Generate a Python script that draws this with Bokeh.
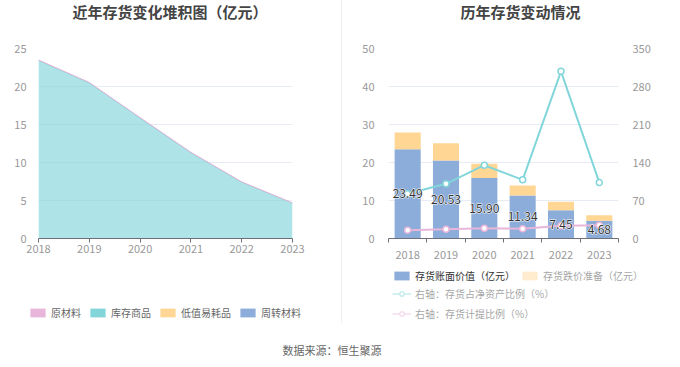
from bokeh.plotting import figure
from bokeh.models import (Range1d, LinearAxis, FixedTicker, Legend, LegendItem,
                          ColumnDataSource, Div, Label)
from bokeh.layouts import row, column
from bokeh.embed import file_html
from bokeh.resources import INLINE
from bokeh.core.properties import value

# ---------------- data ----------------
years = ["2018", "2019", "2020", "2021", "2022", "2023"]
# stacked area (亿元)
goods = [23.43, 20.47, 15.85, 11.29, 7.41, 4.64]        # 库存商品
low_value = [0.0, 0.0, 0.0, 0.0, 0.0, 0.0]              # 低值易耗品
turnover = [0.0, 0.0, 0.0, 0.0, 0.0, 0.0]               # 周转材料
raw_material = [0.06, 0.06, 0.05, 0.05, 0.04, 0.04]     # 原材料
# bars (亿元)
book_value = [23.49, 20.53, 15.90, 11.34, 7.45, 4.68]   # 存货账面价值
impairment = [4.40, 4.55, 3.80, 2.60, 2.20, 1.45]       # 存货跌价准备
# right axis (%)
inv_to_net_assets = [82.3, 100.7, 135.0, 108.0, 308.0, 103.0]
provision_ratio = [15.3, 17.2, 19.0, 17.8, 23.4, 24.5]

FONT = "Noto Sans CJK SC"
C_PINK = "#E8B6DA"
C_TEAL = "#82D6DA"
C_ORANGE = "#FFD693"
C_BLUE = "#8CACD9"
GRID = "#E6EBF4"
AXIS = "#6E7079"
TICK_TXT = "#999999"


def strip_fig(width, height):
    f = figure(width=width, height=height, output_backend="svg", toolbar_location=None,
               x_range=Range1d(100, 101), y_range=Range1d(100, 101),
               x_axis_type=None, y_axis_type=None,
               min_border_left=0, min_border_right=0, min_border_top=0,
               min_border_bottom=0, frame_align=False)
    f.outline_line_color = None
    f.xgrid.grid_line_color = None
    f.ygrid.grid_line_color = None
    return f


def title_strip(width, text, x):
    f = strip_fig(width, 24)
    f.add_layout(Label(x=x, y=13, x_units="screen", y_units="screen", text=text,
                       text_font=FONT, text_font_size="15px", text_font_style="bold",
                       text_color="#444444", text_baseline="middle", text_align="left"))
    return f


def style_legend(lg, col, spacing):
    lg.border_line_color = None
    lg.background_fill_alpha = 0
    lg.padding = 0
    lg.margin = 0
    lg.glyph_width = 19
    lg.glyph_height = 11
    lg.label_height = 11
    lg.label_standoff = 4
    lg.label_text_font = FONT
    lg.label_text_font_size = "10px"
    lg.label_text_color = col
    lg.inactive_fill_color = "white"
    lg.inactive_fill_alpha = 0.55
    lg.spacing = spacing


# ---------------- left chart ----------------
yr_num = [int(y) for y in years]
s1 = [g for g in goods]
s2 = [a + b for a, b in zip(s1, low_value)]
s3 = [a + b for a, b in zip(s2, turnover)]
s4 = [a + b for a, b in zip(s3, raw_material)]
src1 = ColumnDataSource(dict(x=yr_num, z=[0] * 6, s1=s1, s2=s2, s3=s3, s4=s4))

t1 = title_strip(341, "近年存货变化堆积图（亿元）", 72)

p1 = figure(width=341, height=238, output_backend="svg", toolbar_location=None,
            x_range=Range1d(2018, 2023), y_range=Range1d(0, 25),
            min_border_left=38, min_border_right=49, min_border_top=24,
            min_border_bottom=24, frame_align=False)
p1.outline_line_color = None

p1.varea(x="x", y1="z", y2="s1", source=src1, fill_color=C_TEAL, fill_alpha=0.65)
p1.varea(x="x", y1="s1", y2="s2", source=src1, fill_color=C_ORANGE, fill_alpha=0.65)
p1.varea(x="x", y1="s2", y2="s3", source=src1, fill_color=C_BLUE, fill_alpha=0.65)
p1.varea(x="x", y1="s3", y2="s4", source=src1, fill_color=C_PINK, fill_alpha=0.65)
p1.line(x="x", y="s1", source=src1, line_color=C_TEAL, line_width=1)
p1.line(x="x", y="s4", source=src1, line_color=C_PINK, line_width=1)

p1.xaxis.ticker = FixedTicker(ticks=yr_num)
p1.xaxis.major_label_overrides = {int(y): y for y in years}
p1.xaxis.axis_line_color = AXIS
p1.xaxis.major_tick_line_color = AXIS
p1.xaxis.major_tick_out = 4
p1.xaxis.major_tick_in = 0
p1.xaxis.minor_tick_line_color = None
p1.xaxis.major_label_standoff = 2
p1.yaxis.ticker = FixedTicker(ticks=[0, 5, 10, 15, 20, 25])
p1.yaxis.axis_line_color = None
p1.yaxis.major_tick_line_color = None
p1.yaxis.minor_tick_line_color = None
p1.yaxis.major_label_standoff = 6
for ax in (p1.xaxis, p1.yaxis):
    ax.major_label_text_color = TICK_TXT
    ax.major_label_text_font_size = "11px"
    ax.major_label_text_font = FONT
p1.xgrid.grid_line_color = None
p1.ygrid.grid_line_color = GRID

# left legend (own strip)
lf1 = strip_fig(341, 70)
g_raw = lf1.varea(x="x", y1="s3", y2="s4", source=src1, fill_color=C_PINK)
g_goods = lf1.varea(x="x", y1="z", y2="s1", source=src1, fill_color=C_TEAL)
g_low = lf1.varea(x="x", y1="s1", y2="s2", source=src1, fill_color=C_ORANGE)
g_turn = lf1.varea(x="x", y1="s2", y2="s3", source=src1, fill_color=C_BLUE)
leg1 = Legend(items=[LegendItem(label="原材料", renderers=[g_raw]),
                     LegendItem(label="库存商品", renderers=[g_goods]),
                     LegendItem(label="低值易耗品", renderers=[g_low]),
                     LegendItem(label="周转材料", renderers=[g_turn])],
              orientation="horizontal", location=(28, 12))
style_legend(leg1, "#666666", 7)
lf1.add_layout(leg1, "center")

# ---------------- right chart ----------------
idx = list(range(len(years)))
src2 = ColumnDataSource(dict(
    x=idx,
    bv=book_value,
    top=[a + b for a, b in zip(book_value, impairment)],
    half=[v / 2 for v in book_value],
    lbl=["%.2f" % v for v in book_value],
    r1=inv_to_net_assets,
    r2=provision_ratio,
))

t2 = title_strip(322, "历年存货变动情况", 118)

p2 = figure(width=322, height=238, output_backend="svg", toolbar_location=None,
            x_range=Range1d(-0.5, 5.5), y_range=Range1d(0, 50),
            min_border_left=46, min_border_right=46, min_border_top=24,
            min_border_bottom=24, frame_align=False)
p2.outline_line_color = None
p2.extra_y_ranges = {"r": Range1d(0, 350)}

p2.vbar(x="x", bottom=0, top="bv", width=0.68, source=src2,
        fill_color=C_BLUE, line_color=None)
p2.vbar(x="x", bottom="bv", top="top", width=0.68, source=src2,
        fill_color=C_ORANGE, line_color=None)

p2.line(x="x", y="r1", source=src2, y_range_name="r", line_color=C_TEAL, line_width=2)
p2.scatter(x="x", y="r1", source=src2, y_range_name="r", marker="circle", size=6,
           fill_color="white", line_color=C_TEAL, line_width=1.5)
p2.line(x="x", y="r2", source=src2, y_range_name="r", line_color=C_PINK, line_width=2)
p2.scatter(x="x", y="r2", source=src2, y_range_name="r", marker="circle", size=6,
           fill_color="white", line_color=C_PINK, line_width=1.5)

p2.text(x="x", y="half", text="lbl", source=src2, text_align="center",
        text_baseline="middle", text_font_size="12px", text_color="white",
        text_font=value(FONT), text_outline_color="white")
p2.text(x="x", y="half", text="lbl", source=src2, text_align="center",
        text_baseline="middle", text_font_size="12px", text_color="#333333",
        text_font=value(FONT))

p2.xaxis.ticker = FixedTicker(ticks=idx, minor_ticks=[i - 0.5 for i in range(7)])
p2.xaxis.major_label_overrides = {i: y for i, y in zip(idx, years)}
p2.xaxis.axis_line_color = AXIS
p2.xaxis.major_tick_line_color = None
p2.xaxis.minor_tick_line_color = AXIS
p2.xaxis.minor_tick_out = 4
p2.xaxis.minor_tick_in = 0
p2.xaxis.major_label_standoff = 6
p2.yaxis.ticker = FixedTicker(ticks=[0, 10, 20, 30, 40, 50])
ax_r = LinearAxis(y_range_name="r", ticker=FixedTicker(ticks=[0, 70, 140, 210, 280, 350]))
p2.add_layout(ax_r, "right")
for ax in p2.yaxis:
    ax.axis_line_color = None
    ax.major_tick_line_color = None
    ax.minor_tick_line_color = None
    ax.major_label_standoff = 8
for ax in list(p2.xaxis) + list(p2.yaxis):
    ax.major_label_text_color = TICK_TXT
    ax.major_label_text_font_size = "11px"
    ax.major_label_text_font = FONT
p2.xgrid.grid_line_color = None
p2.ygrid.grid_line_color = GRID

# right legend (own strip)
lf2 = strip_fig(322, 70)
lf2.extra_y_ranges = {"r": Range1d(1000, 1001)}
g_bv = lf2.vbar(x="x", bottom=0, top="bv", width=0.68, source=src2,
                fill_color=C_BLUE, line_color=None)
g_imp = lf2.vbar(x="x", bottom="bv", top="top", width=0.68, source=src2,
                 fill_color=C_ORANGE, line_color=None, visible=False)
gl1 = lf2.line(x="x", y="r1", source=src2, y_range_name="r", line_color=C_TEAL,
               line_width=1.5, visible=False)
gm1 = lf2.scatter(x="x", y="r1", source=src2, y_range_name="r", marker="circle", size=9,
                  fill_color="white", line_color=C_TEAL, line_width=1.5, visible=False)
gl2 = lf2.line(x="x", y="r2", source=src2, y_range_name="r", line_color=C_PINK,
               line_width=1.5, visible=False)
gm2 = lf2.scatter(x="x", y="r2", source=src2, y_range_name="r", marker="circle", size=9,
                  fill_color="white", line_color=C_PINK, line_width=1.5, visible=False)
leg2a = Legend(items=[LegendItem(label="存货账面价值（亿元）", renderers=[g_bv]),
                      LegendItem(label="存货跌价准备（亿元）", renderers=[g_imp])],
               orientation="horizontal", location=(50, 49), click_policy="hide")
leg2b = Legend(items=[LegendItem(label="右轴：存货占净资产比例（%）", renderers=[gl1, gm1]),
                      LegendItem(label="右轴：存货计提比例（%）", renderers=[gl2, gm2])],
               orientation="vertical", location=(50, 11), click_policy="hide")
style_legend(leg2a, "#333333", 5)
style_legend(leg2b, "#333333", 5)
lf2.add_layout(leg2a, "center")
lf2.add_layout(leg2b, "center")

sep = Div(text="", width=1, height=323, margin=0,
          styles={"background-color": "#eeeeee"})
footer = Div(text='<div style="position:relative; top:9px;">数据来源：恒生聚源</div>',
             width=664, height=19, margin=0,
             styles={"font-family": FONT, "font-size": "11px", "color": "#666666",
                     "text-align": "center", "line-height": "19px", "width": "664px"})

layout = column(row(column(t1, p1, lf1, spacing=0), sep,
                    column(t2, p2, lf2, spacing=0), spacing=0),
                footer, spacing=0)

with open("out.html", "w") as f:
    f.write(file_html(layout, INLINE))
